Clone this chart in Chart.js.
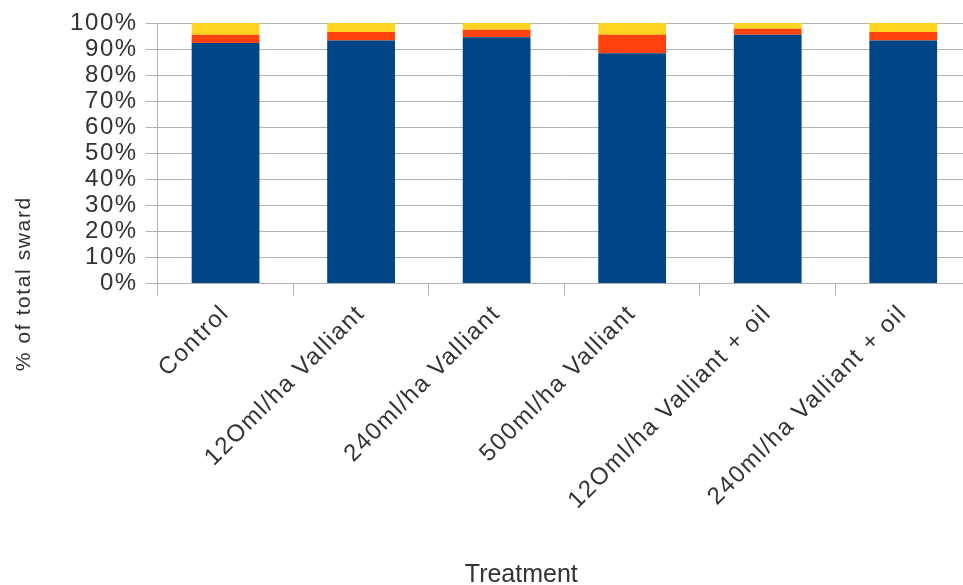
<!DOCTYPE html>
<html>
<head>
<meta charset="utf-8">
<script src="https://cdn.jsdelivr.net/npm/chart.js@4/dist/chart.umd.min.js"></script>
<style>
html, body { margin: 0; padding: 0; background: #fff; overflow: hidden; }
#wrap { position: relative; width: 971px; height: 585px; }
</style>
</head>
<body>
<div id="wrap"><canvas id="myChart"></canvas></div>
<script>
// treatments along the x axis
var treatments = ["Control", "12Oml/ha Valliant", "240ml/ha Valliant", "500ml/ha Valliant",
    "12Oml/ha Valliant + oil", "240ml/ha Valliant + oil"];

// % of total sward (bottom to top of each bar)
var grass = [92.3, 93.3, 94.5, 88.4, 95.5, 93.3];
var weeds = [3.2, 3.2, 2.9, 7.1, 2.3, 3.2];
var other = [4.5, 3.5, 2.6, 4.5, 2.2, 3.5];

var yTicks = [0, 10, 20, 30, 40, 50, 60, 70, 80, 90, 100];

var xTitle = 'Treatment';
var yTitle = '% of total sward';

var textColor = '#333333';
var lineColor = '#b3b3b3';
var font = '"Liberation Sans", Arial, sans-serif';

// libreoffice export has a wide letter spacing on the labels
// axis titles are placed like libreoffice does it (centred on the whole page, not the plot)
var titlesPlugin = {
    id: 'titles',
    beforeUpdate: function(chart) { chart.ctx.letterSpacing = '1.6px'; },
    beforeDraw: function(chart) { chart.ctx.letterSpacing = '1.6px'; },
    afterDraw: function(chart) {
        var ctx = chart.ctx;
        var area = chart.chartArea;
        ctx.save();
        ctx.fillStyle = textColor;
        ctx.textAlign = 'center';

        ctx.letterSpacing = '0px';
        ctx.font = '25px ' + font;
        ctx.textBaseline = 'alphabetic';
        ctx.fillText(xTitle, area.left + area.width * 0.447, chart.height - 3);

        ctx.letterSpacing = '1.6px';
        ctx.font = '21px ' + font;
        ctx.textBaseline = 'middle';
        ctx.translate(24, chart.height * 0.485);
        ctx.rotate(-Math.PI / 2);
        ctx.fillText(yTitle, 0, 0);
        ctx.restore();
    }
};

var ctx = document.getElementById('myChart').getContext('2d');
var myChart = new Chart(ctx, {
    type: 'bar',
    data: {
        labels: treatments,
        datasets: [
            { label: 'Grass', data: grass, backgroundColor: '#004586' },
            { label: 'Weeds', data: weeds, backgroundColor: '#ff420e' },
            { label: 'Other', data: other, backgroundColor: '#ffd320' }
        ]
    },
    options: {
        responsive: true,
        maintainAspectRatio: false,
        animation: false,
        datasets: {
            bar: { barPercentage: 0.5, categoryPercentage: 1.0, borderWidth: 0 }
        },
        layout: { padding: { top: 23, right: 0, bottom: 66, left: 62 } },
        plugins: {
            legend: { display: false },
            tooltip: { enabled: false }
        },
        scales: {
            x: {
                stacked: true,
                border: { color: lineColor },
                grid: { display: true, drawOnChartArea: false, offset: true, tickLength: 12, color: lineColor },
                ticks: {
                    autoSkip: false, maxRotation: 45, minRotation: 45, padding: 4,
                    color: textColor, font: { family: font, size: 24 }
                }
            },
            y: {
                stacked: true,
                min: 0,
                max: 100,
                border: { color: lineColor },
                grid: { color: lineColor, tickLength: 12 },
                afterBuildTicks: function(scale) {
                    scale.ticks = yTicks.map(function(v) { return { value: v }; });
                },
                ticks: {
                    autoSkip: false, padding: 8, color: textColor,
                    font: { family: font, size: 24, lineHeight: 1.0 },
                    callback: function(v) { return v + '%'; }
                }
            }
        }
    },
    plugins: [titlesPlugin]
});
</script>
</body>
</html>
